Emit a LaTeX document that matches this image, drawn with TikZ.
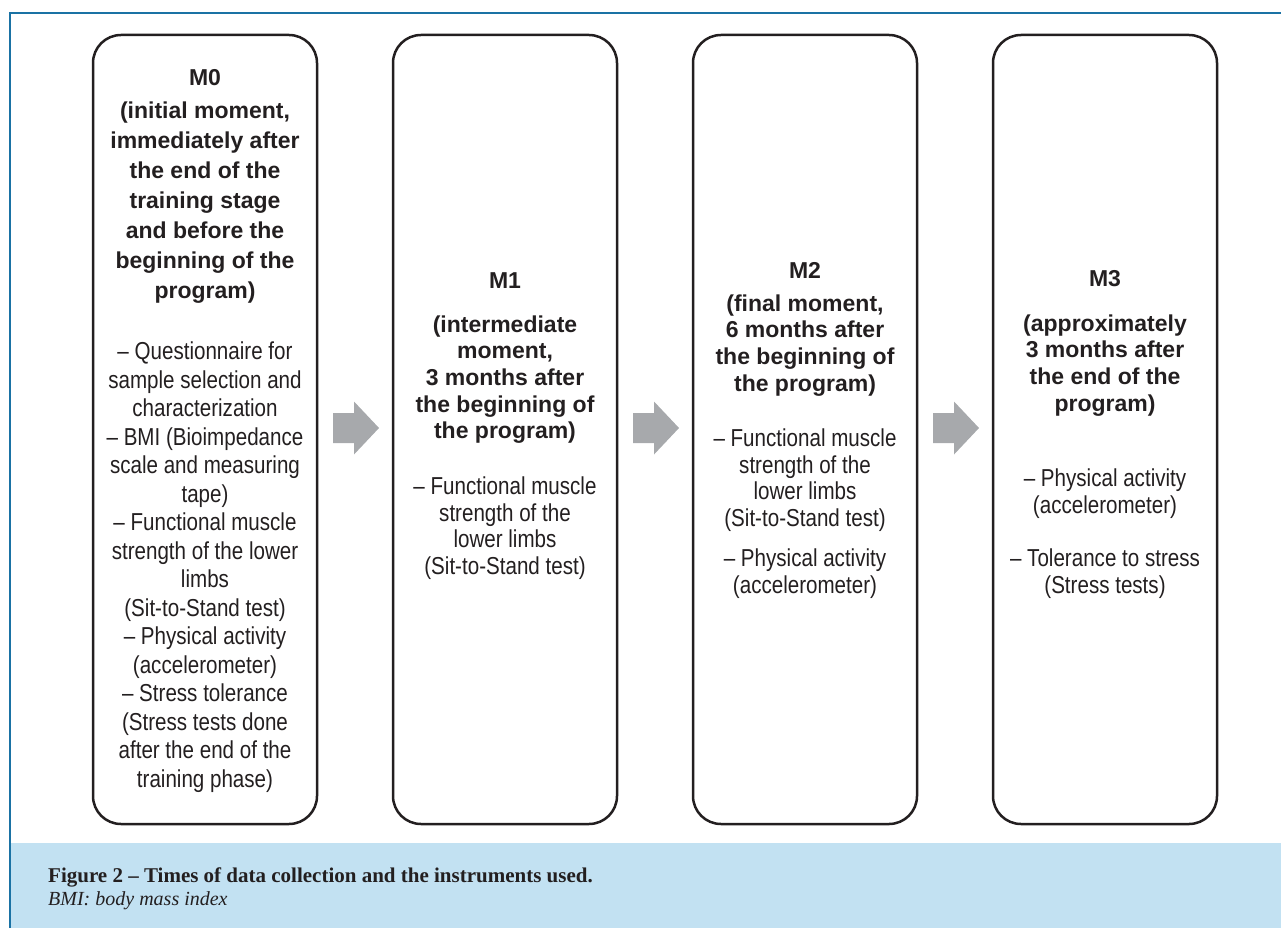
\documentclass[tikz,border=0pt]{standalone}
\usepackage{fontspec}
\setmainfont{Liberation Serif}
\setsansfont{Liberation Sans}
\newfontfamily\narrowsans[FakeStretch=0.84]{Liberation Sans}
\usetikzlibrary{calc}
\definecolor{frameblue}{HTML}{1A72A4}
\definecolor{bandblue}{HTML}{C2E1F2}
\definecolor{arrowgray}{HTML}{A7A9AC}
\definecolor{inkdark}{HTML}{231F20}
\tikzset{
  stagebox/.style={draw=inkdark, line width=2.5pt, rounded corners=28pt,
    minimum width=224pt, minimum height=789pt, inner sep=0pt},
  blockarrow/.style={fill=arrowgray, draw=none},
  headtxt/.style={text=inkdark, inner sep=0pt, align=center, anchor=north,
    font=\sffamily\bfseries\fontsize{23}{26.6}\selectfont, execute at begin node=\strut},
  boldtxt/.style={text=inkdark, inner sep=0pt, align=center, anchor=north,
    font=\sffamily\bfseries\fontsize{23}{26.6}\selectfont, execute at begin node=\strut},
  regtxt/.style={text=inkdark, inner sep=0pt, align=center, anchor=north,
    font=\narrowsans\fontsize{24.5}{26.9}\selectfont, execute at begin node=\strut},
  boldwide/.style={boldtxt, font=\sffamily\bfseries\fontsize{23}{30}\selectfont},
  regwide/.style={regtxt, font=\narrowsans\fontsize{24.5}{28.5}\selectfont},
  captxt/.style={text=inkdark, inner sep=0pt, anchor=base west}
}
\newcommand{\blockarrowat}[1]{%
  \fill[blockarrow] ($(#1)+(-22.5,-15)$) -- ($(#1)+(-1.5,-15)$) -- ($(#1)+(-1.5,-26.5)$)
    -- ($(#1)+(23.5,0)$) -- ($(#1)+(-1.5,26.5)$) -- ($(#1)+(-1.5,15)$)
    -- ($(#1)+(-22.5,15)$) -- cycle;}
\begin{document}
\begin{tikzpicture}[x=1pt,y=-1pt]
\useasboundingbox (0,0) rectangle (1281,928);
% caption band and frame
\fill[bandblue] (10,843) rectangle (1281,928);
\draw[frameblue, line width=2.5pt] (10,928) -- (10,13) -- (1281,13);

% stage boxes
\node[stagebox] (b0) at (205,429.5) {};
\node[stagebox] (b1) at (505,429.5) {};
\node[stagebox] (b2) at (805,429.5) {};
\node[stagebox] (b3) at (1105,429.5) {};

% arrows between the boxes
\coordinate (a1) at ($(b0.east)!0.5!(b1.west)+(0.5,-1.5)$);
\coordinate (a2) at ($(b1.east)!0.5!(b2.west)+(0.5,-1.5)$);
\coordinate (a3) at ($(b2.east)!0.5!(b3.west)+(0.5,-1.5)$);
\blockarrowat{a1}
\blockarrowat{a2}
\blockarrowat{a3}

% box M0
\node[headtxt] (h0) at (205,66.4) {M0};
\node[boldwide] (t0) at (205,102) {(initial moment,\\immediately after\\the end of the\\training stage\\and before the\\beginning of the\\program)};
\node[regwide] (r0) at (205,342) {– Questionnaire for\\sample selection and\\characterization\\– BMI (Bioimpedance\\scale and measuring\\tape)\\– Functional muscle\\strength of the lower\\limbs\\(Sit-to-Stand test)\\– Physical activity\\(accelerometer)\\– Stress tolerance\\(Stress tests done\\after the end of the\\training phase)};

% box M1
\node[headtxt] (h1) at (505,269.4) {M1};
\node[boldtxt] (t1) at (505,315.4) {(intermediate\\moment,\\3 months after\\the beginning of\\the program)};
\node[regtxt] (r1) at (505,476.2) {– Functional muscle\\strength of the\\lower limbs\\(Sit-to-Stand test)};

% box M2
\node[headtxt] (h2) at (805,259.4) {M2};
\node[boldtxt] (t2) at (805,294.4) {(final moment,\\6 months after\\the beginning of\\the program)};
\node[regtxt] (r2a) at (805,428.2) {– Functional muscle\\strength of the\\lower limbs\\(Sit-to-Stand test)};
\node[regtxt] (r2b) at (805,548.2) {– Physical activity\\(accelerometer)};

% box M3
\node[headtxt] (h3) at (1105,267.4) {M3};
\node[boldtxt] (t3) at (1105,314.4) {(approximately\\3 months after\\the end of the\\program)};
\node[regtxt] (r3a) at (1105,468.2) {– Physical activity\\(accelerometer)};
\node[regtxt] (r3b) at (1105,548.2) {– Tolerance to stress\\(Stress tests)};

% caption
\node[captxt, font=\bfseries\fontsize{21}{23}\selectfont] (cap1) at (48,882) {Figure 2 – Times of data collection and the instruments used.};
\node[captxt, font=\itshape\fontsize{20}{23}\selectfont] (cap2) at (48,905) {BMI: body mass index};
\end{tikzpicture}
\end{document}
